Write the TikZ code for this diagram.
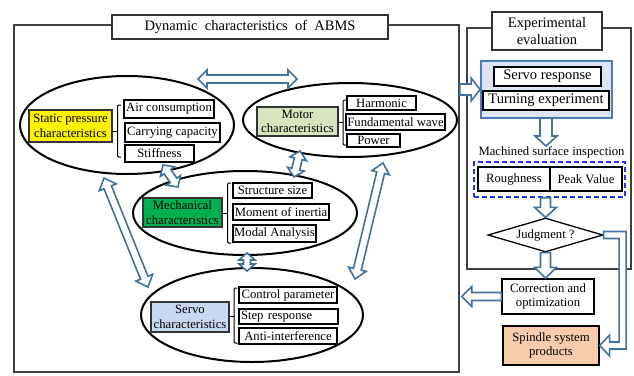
\documentclass[tikz,border=0pt]{standalone}
\usepackage{fontspec}
\setmainfont{Liberation Serif}
\usetikzlibrary{calc,shapes.geometric}
\definecolor{arrblue}{HTML}{41719C}
\definecolor{boxblue}{HTML}{4A7EBB}
\definecolor{fillblue}{HTML}{DCE6F2}
\definecolor{motorgreen}{HTML}{D7E4BD}
\definecolor{mechgreen}{HTML}{00B050}
\definecolor{servoblue}{HTML}{C6D9F1}
\definecolor{peach}{HTML}{F8CBAD}
\definecolor{dashblue}{HTML}{2433F0}
% double-headed block arrow: from, to, shaft half width, head half width, head length
\newcommand\dblarr[5]{%
 \draw[blockarr] let \p1=($(#2)-(#1)$), \n1={atan2(\y1,\x1)} in
  (#1) -- ($(#1)+(\n1:#5pt)+(\n1+90:#4pt)$) -- ($(#1)+(\n1:#5pt)+(\n1+90:#3pt)$)
  -- ($(#2)-(\n1:#5pt)+(\n1+90:#3pt)$) -- ($(#2)-(\n1:#5pt)+(\n1+90:#4pt)$) -- (#2)
  -- ($(#2)-(\n1:#5pt)-(\n1+90:#4pt)$) -- ($(#2)-(\n1:#5pt)-(\n1+90:#3pt)$)
  -- ($(#1)+(\n1:#5pt)-(\n1+90:#3pt)$) -- ($(#1)+(\n1:#5pt)-(\n1+90:#4pt)$) -- cycle;}
% single-headed block arrow
\newcommand\onearr[5]{%
 \draw[blockarr] let \p1=($(#2)-(#1)$), \n1={atan2(\y1,\x1)} in
  ($(#1)+(\n1+90:#3pt)$) -- ($(#2)-(\n1:#5pt)+(\n1+90:#3pt)$) -- ($(#2)-(\n1:#5pt)+(\n1+90:#4pt)$) -- (#2)
  -- ($(#2)-(\n1:#5pt)-(\n1+90:#4pt)$) -- ($(#2)-(\n1:#5pt)-(\n1+90:#3pt)$)
  -- ($(#1)-(\n1+90:#3pt)$) -- cycle;}
\tikzset{
  frame/.style={draw=black!75, line width=1.4pt, inner sep=0pt},
  titlebox/.style={draw=black!80, line width=1.4pt, fill=white, inner sep=0pt, align=center, font=\fontsize{14.5}{17}\selectfont},
  ell/.style={ellipse, draw=black, line width=2pt, inner sep=0pt},
  catbox/.style={draw=black!80, line width=1.3pt, inner sep=0pt, align=center, font=\fontsize{12.7}{14.5}\selectfont},
  subbox/.style={draw=black, line width=1.4pt, inner sep=0pt, font=\fontsize{12.7}{14.5}\selectfont},
  bigsub/.style={draw=black, line width=1.4pt, inner sep=0pt, font=\fontsize{14.5}{17}\selectfont},
  brk/.style={draw=black, line width=1pt, rounded corners=1.2pt},
  blockarr/.style={draw=arrblue, line width=1.6pt, fill=white, line join=miter},
  lbl/.style={inner sep=0pt, font=\fontsize{12.7}{14.5}\selectfont},
}
\begin{document}
\begin{tikzpicture}[x=1pt,y=-1pt]
\useasboundingbox (0,0) rectangle (634,375);
% frames and titles
\node[frame, minimum width=445pt, minimum height=347pt] (leftframe) at (236.5,198.5) {};
\node[frame, minimum width=164pt, minimum height=241pt] (rightframe) at (549,148.5) {};
\node[titlebox, minimum width=276pt, minimum height=24pt] (dyntitle) at (250,27) {Dynamic\ \ characteristics\ \ of\ \ ABMS};
\node[titlebox, minimum width=110pt, minimum height=38pt] (exptitle) at (547,31) {Experimental\\evaluation};
% ellipses
\node[ell, minimum width=214pt, minimum height=98pt] (e1) at (127,125) {};
\node[ell, minimum width=214pt, minimum height=74pt] (e2) at (350,120) {};
\node[ell, minimum width=224pt, minimum height=84pt] (e3) at (245,213) {};
\node[ell, minimum width=222pt, minimum height=94pt] (e4) at (252,315) {};
% static pressure
\node[catbox, fill=yellow, minimum width=83pt, minimum height=32pt] (stat) at (70.5,126) {Static pressure\\characteristics};
\node[subbox, minimum width=90pt, minimum height=18pt] (air) at (169,109) {Air consumption};
\node[subbox, minimum width=95pt, minimum height=19pt] (carry) at (172.5,132.5) {Carrying capacity};
\node[subbox, minimum width=69pt, minimum height=17pt] (stiff) at (159.5,153.5) {Stiffness};
\draw[brk] (121,105) -- (117.5,105) -- (117.5,157) -- (121,157);
\draw[brk] (112,131) -- (117.5,131);
% motor
\node[catbox, fill=motorgreen, minimum width=81pt, minimum height=29pt] (motor) at (297.5,121.5) {Motor\\characteristics};
\node[subbox, minimum width=69pt, minimum height=14pt] (harm) at (381.5,103) {Harmonic};
\node[subbox, minimum width=99pt, minimum height=16pt] (fund) at (395.5,122) {Fundamental wave};
\node[subbox, minimum width=53pt, minimum height=13pt] (power) at (373.5,140.5) {Power};
\draw[brk] (346,100) -- (343,100) -- (343,145) -- (346,145);
\draw[brk] (338,122) -- (343,122);
% mechanical
\node[catbox, fill=mechgreen, minimum width=79pt, minimum height=29pt] (mech) at (182.5,212.5) {Mechanical\\characteristics};
\node[subbox, minimum width=79pt, minimum height=15pt] (struct) at (272.5,190.5) {Structure size};
\node[subbox, minimum width=96pt, minimum height=16pt] (moment) at (281,212) {Moment of inertia};
\node[subbox, minimum width=83pt, minimum height=17pt] (modal) at (274.5,233.5) {Modal Analysis};
\draw[brk] (231,183) -- (227.5,183) -- (227.5,243) -- (231,243);
\draw[brk] (222,213) -- (227.5,213);
% servo
\node[catbox, fill=servoblue, minimum width=78pt, minimum height=30pt] (servo) at (190,317) {Servo\\characteristics};
\node[subbox, minimum width=98pt, minimum height=16pt] (ctrl) at (288,295) {Control parameter};
\node[subbox, minimum width=99pt, minimum height=15pt, text width=95pt, align=left] (step) at (288.5,316.5) {Step response};
\node[subbox, minimum width=98pt, minimum height=16pt] (anti) at (288,336) {Anti-interference};
\draw[brk] (237.5,288) -- (234,288) -- (234,343) -- (237.5,343);
\draw[brk] (229,316) -- (234,316);
% arrows between ellipses
\coordinate (a1s) at (198,79); \coordinate (a1e) at (297,79);
\coordinate (a2s) at (163,165); \coordinate (a2e) at (178,187);
\coordinate (a3s) at (300,151); \coordinate (a3e) at (294,177);
\coordinate (a4s) at (247,253); \coordinate (a4e) at (247,271);
\coordinate (a5s) at (104,178); \coordinate (a5e) at (148,287);
\coordinate (a6s) at (383,163); \coordinate (a6e) at (355,279);
\dblarr{a1s}{a1e}{4}{9}{9}
\dblarr{a2s}{a2e}{4}{8.5}{8}
\dblarr{a3s}{a3e}{4}{8.5}{8}
\dblarr{a4s}{a4e}{3.5}{8}{7}
\dblarr{a5s}{a5e}{4}{9}{10}
\dblarr{a6s}{a6e}{4}{9}{10}
% right side
\node[draw=boxblue, fill=fillblue, line width=1.8pt, minimum width=131pt, minimum height=57pt, inner sep=0pt] (bluebox) at (546.5,89.5) {};
\node[bigsub, fill=white, minimum width=107pt, minimum height=19pt] (servoresp) at (547.5,76.5) {Servo response};
\node[bigsub, fill=white, minimum width=126pt, minimum height=19pt] (turning) at (546,100.5) {Turning experiment};
\node[lbl] (machlbl) at (551.5,152) {Machined surface inspection};
\node[draw=dashblue, line width=1.5pt, dash pattern=on 5pt off 3pt, minimum width=151pt, minimum height=35pt, inner sep=0pt] (dashbox) at (549.5,179.5) {};
\node[subbox, minimum width=72pt, minimum height=24pt] (rough) at (514,179) {Roughness};
\node[subbox, minimum width=72pt, minimum height=24pt] (peak) at (586,179) {Peak Value};
\node[diamond, draw=black, line width=1.3pt, aspect=3.38, minimum width=115pt, minimum height=34pt, inner sep=0pt, font=\fontsize{12.7}{14.5}\selectfont] (judge) at (545.5,235) {Judgment ?};
\node[catbox, draw=black, minimum width=92pt, minimum height=35pt] (corr) at (548,296.5) {Correction and\\optimization};
\node[catbox, draw=black, fill=peach, minimum width=96pt, minimum height=39pt] (spindle) at (551,345.5) {Spindle system\\products};
% arrows on the right
\coordinate (f1) at (leftframe.east |- bluebox.west);
\onearr{f1}{bluebox.west}{5.5}{11.5}{9}
\coordinate (d1s) at (546,118); \coordinate (d1e) at (546,146);
\onearr{d1s}{d1e}{6}{11}{10}
\coordinate (d2s) at (judge.north |- dashbox.south);
\onearr{d2s}{judge.north}{5}{11}{10}
\coordinate (d3e) at (judge.south |- corr.north);
\onearr{judge.south}{d3e}{5}{11}{11}
\coordinate (l1e) at ($(leftframe.east |- corr.west)+(2,0)$);
\onearr{corr.west}{l1e}{4}{10}{10}
\draw[blockarr] ($(judge.east)+(0,-3.5)$) -- ++(22.5,0) -- ($(spindle.east)+(26.5,3.5)$)
  -- ++(-16.5,0) -- ++(0,7) -- (spindle.east) -- ++(10,-10.5) -- ++(0,7) -- ++(9.5,0)
  -- ++(0,-103.5) -- ($(judge.east)+(0,3.5)$) -- cycle;
\end{tikzpicture}
\end{document}
